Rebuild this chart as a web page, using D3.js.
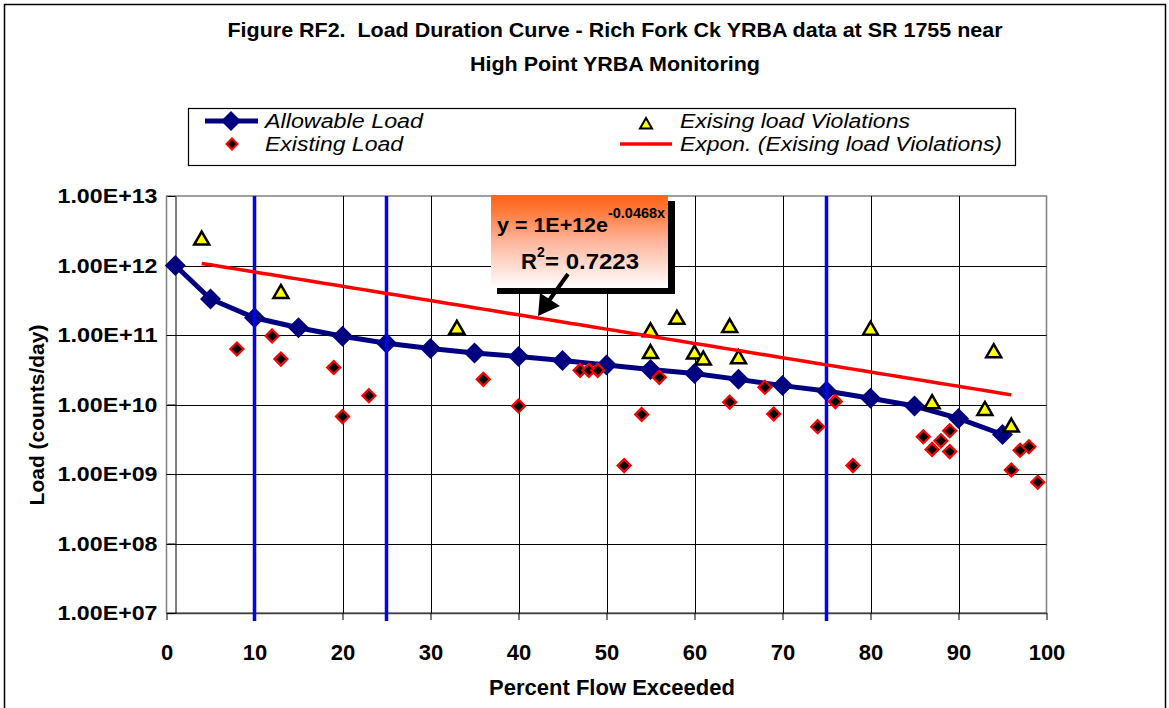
<!DOCTYPE html>
<html>
<head>
<meta charset="utf-8">
<script src="https://cdn.jsdelivr.net/npm/d3@7"></script>
<style>
  body { margin: 0; background: #fff; }
  svg { font-family: "Liberation Sans", Arial, sans-serif; }
</style>
</head>
<body>
<svg id="svg" width="1169" height="708"></svg>
<script>
// ---- data ----
const allowX = [1, 5, 10, 15, 20, 25, 30, 35, 40, 45, 50, 55, 60, 65, 70, 75, 80, 85, 90, 95];
const allowY = [1.0e12, 3.3e11, 1.77e11, 1.27e11, 9.6e10, 7.6e10, 6.4e10, 5.5e10, 4.9e10, 4.3e10,
                3.7e10, 3.2e10, 2.8e10, 2.3e10, 1.87e10, 1.56e10, 1.23e10, 9.5e9, 6.3e9, 3.7e9];

const existX = [8, 12, 13, 19, 20, 23, 36, 40, 47, 48, 49, 52, 54, 56, 64, 68, 69, 74, 76, 78,
                86, 87, 88, 89, 89, 96, 97, 98, 99];
const existY = [6.3e10, 9.7e10, 4.5e10, 3.4e10, 6.7e9, 1.34e10, 2.3e10, 9.5e9, 3.1e10, 3.1e10,
                3.1e10, 1.32e9, 7.2e9, 2.46e10, 1.08e10, 1.77e10, 7.3e9, 4.8e9, 1.1e10, 1.32e9,
                3.44e9, 2.26e9, 3.0e9, 4.2e9, 2.1e9, 1.14e9, 2.2e9, 2.47e9, 7.6e8];

const violX = [4, 13, 33, 55, 55, 58, 60, 61, 64, 65, 80, 87, 93, 94, 96];
const violY = [2.4e12, 4.1e11, 1.25e11, 1.15e11, 5.6e10, 1.74e11, 5.5e10, 4.5e10, 1.32e11, 4.7e10,
               1.21e11, 1.06e10, 8.5e9, 5.75e10, 4.9e9];

const zoneX = [10, 25, 75];
const xTicks = [0, 10, 20, 30, 40, 50, 60, 70, 80, 90, 100];
const yTicks = [1e7, 1e8, 1e9, 1e10, 1e11, 1e12, 1e13];

const titleLines = ["Figure RF2.  Load Duration Curve - Rich Fork Ck YRBA data at SR 1755 near",
                    "High Point YRBA Monitoring"];
const eqText = "y = 1E+12e";
const eqExp = "-0.0468x";
const r2Text = " = 0.7223";

// ---- layout ----
const svg = d3.select("#svg");
const xScale = d3.scaleLinear().domain([0, 100]).range([166.5, 1046.5]);
const yScale = d3.scaleLog().domain([1e7, 1e13]).range([613, 196]);
const plotL = xScale(0), plotR = xScale(100), plotT = yScale(1e13), plotB = yScale(1e7);

const diamond = r => `M0,${-r}L${r},0L0,${r}L${-r},0Z`;
const triangle = "M0,-7.5L7.5,5.5L-7.5,5.5Z";

// outer frame
svg.append("rect").attr("x", 4.5).attr("y", 4.5).attr("width", 1161).attr("height", 720)
    .attr("fill", "#fff").attr("stroke", "#000").attr("stroke-width", 1.5);

// title
svg.selectAll(".title").data(titleLines).join("text")
    .attr("class", "title")
    .attr("x", 615).attr("y", (d, i) => 37 + i * 34)
    .attr("text-anchor", "middle")
    .attr("font-size", 20).attr("font-weight", "bold")
    .attr("textLength", (d, i) => i === 0 ? 775 : 290)
    .attr("lengthAdjust", "spacingAndGlyphs")
    .style("white-space", "pre")
    .text(d => d);

// plot area
svg.append("rect").attr("x", plotL).attr("y", plotT)
    .attr("width", plotR - plotL).attr("height", plotB - plotT)
    .attr("fill", "#fff").attr("stroke", "#808080").attr("stroke-width", 1.5);

// gridlines
svg.append("g").selectAll("line").data(yTicks.slice(1, -1)).join("line")
    .attr("x1", plotL).attr("x2", plotR)
    .attr("y1", d => Math.round(yScale(d)) + 0.5).attr("y2", d => Math.round(yScale(d)) + 0.5)
    .attr("stroke", "#000");
svg.append("g").selectAll("line").data(xTicks.slice(1, -1)).join("line")
    .attr("x1", d => Math.round(xScale(d)) + 0.5).attr("x2", d => Math.round(xScale(d)) + 0.5)
    .attr("y1", plotT).attr("y2", plotB)
    .attr("stroke", "#000");

// axes
const xAxisCall = d3.axisBottom(xScale).tickValues(xTicks).tickSize(7).tickSizeOuter(0).tickPadding(24);
const xAxis = svg.append("g").attr("transform", `translate(0,${plotB})`).call(xAxisCall);
xAxis.select(".domain").attr("stroke", "#404040").attr("stroke-width", 1.5);
xAxis.selectAll("text").attr("font-size", 22).attr("font-weight", "bold")
    .attr("font-family", "Liberation Sans, Arial, sans-serif").attr("fill", "#000");

const yFmt = v => "1.00E+" + String(Math.round(Math.log10(v))).padStart(2, "0");
const yAxisCall = d3.axisLeft(yScale).tickValues(yTicks).tickFormat(yFmt)
    .tickSize(8).tickSizeOuter(0).tickPadding(10);
const yAxis = svg.append("g").attr("transform", `translate(${Math.round(xScale(1)) + 0.5},0)`).call(yAxisCall);
yAxis.select(".domain").attr("stroke", "#000");
yAxis.selectAll("text").attr("font-size", 21).attr("font-weight", "bold")
    .attr("textLength", 100).attr("lengthAdjust", "spacingAndGlyphs")
    .attr("font-family", "Liberation Sans, Arial, sans-serif").attr("fill", "#000");

// axis titles
svg.append("text").attr("transform", "translate(44,415) rotate(-90)")
    .attr("text-anchor", "middle").attr("font-size", 21).attr("font-weight", "bold")
    .text("Load (counts/day)");
svg.append("text").attr("x", 612).attr("y", 695)
    .attr("text-anchor", "middle").attr("font-size", 22).attr("font-weight", "bold")
    .text("Percent Flow Exceeded");

// allowable load
const allowData = allowX.map((x, i) => [x, allowY[i]]);
svg.append("path").datum(allowData)
    .attr("d", d3.line().x(d => xScale(d[0])).y(d => yScale(d[1])))
    .attr("fill", "none").attr("stroke", "#000080").attr("stroke-width", 5);
svg.append("g").selectAll("path").data(allowData).join("path")
    .attr("transform", d => `translate(${xScale(d[0])},${yScale(d[1])})`)
    .attr("d", diamond(10.5)).attr("fill", "#000080");

// flow zone lines
svg.append("g").selectAll("line").data(zoneX).join("line")
    .attr("x1", d => xScale(d)).attr("x2", d => xScale(d))
    .attr("y1", plotT).attr("y2", plotB + 8)
    .attr("stroke", "#0000ff").attr("stroke-width", 3.5);

// existing load
svg.append("g").selectAll("path").data(existX.map((x, i) => [x, existY[i]])).join("path")
    .attr("transform", d => `translate(${xScale(d[0])},${yScale(d[1])})`)
    .attr("d", diamond(6.5)).attr("fill", "#000").attr("stroke", "#ff0000").attr("stroke-width", 2.2);

// violations
const violData = violX.map((x, i) => [x, violY[i]]);
svg.append("g").selectAll("path").data(violData).join("path")
    .attr("transform", d => `translate(${xScale(d[0])},${yScale(d[1])})`)
    .attr("d", triangle).attr("fill", "#ffff00").attr("stroke", "#000").attr("stroke-width", 2.5);

// exponential trend fitted to violations (least squares on ln y)
const mx = d3.mean(violX), my = d3.mean(violY, v => Math.log(v));
const b = d3.sum(violX, (x, i) => (x - mx) * (Math.log(violY[i]) - my)) / d3.sum(violX, x => (x - mx) ** 2);
const a = Math.exp(my - b * mx);
const trendData = d3.range(d3.min(violX), d3.max(violX) + 0.01, 1).map(x => [x, a * Math.exp(b * x)]);
svg.append("path").datum(trendData)
    .attr("d", d3.line().x(d => xScale(d[0])).y(d => yScale(d[1])))
    .attr("fill", "none").attr("stroke", "#ff0000").attr("stroke-width", 3.5);

// equation label
const defs = svg.append("defs");
const grad = defs.append("linearGradient").attr("id", "eqGrad").attr("x1", 0).attr("y1", 0).attr("x2", 0).attr("y2", 1);
grad.append("stop").attr("offset", "0%").attr("stop-color", "#ff6414");
grad.append("stop").attr("offset", "18%").attr("stop-color", "#ff7a3c");
grad.append("stop").attr("offset", "50%").attr("stop-color", "#ffb59c");
grad.append("stop").attr("offset", "100%").attr("stop-color", "#ffffff");

const eq = svg.append("g");
eq.append("rect").attr("x", 497).attr("y", 201).attr("width", 178).attr("height", 93).attr("fill", "#000");
eq.append("rect").attr("x", 491).attr("y", 195).attr("width", 177).attr("height", 93).attr("fill", "url(#eqGrad)");
eq.append("text").attr("x", 497).attr("y", 232).attr("font-size", 21).attr("font-weight", "bold")
    .attr("textLength", 111).attr("lengthAdjust", "spacingAndGlyphs").text(eqText);
eq.append("text").attr("x", 608).attr("y", 218).attr("font-size", 15).attr("font-weight", "bold")
    .attr("textLength", 57).attr("lengthAdjust", "spacingAndGlyphs").text(eqExp);
eq.append("text").attr("x", 521).attr("y", 269).attr("font-size", 22).attr("font-weight", "bold").text("R");
eq.append("text").attr("x", 537).attr("y", 257).attr("font-size", 14).attr("font-weight", "bold").text("2");
eq.append("text").attr("x", 545).attr("y", 269).attr("font-size", 22).attr("font-weight", "bold")
    .attr("textLength", 94).attr("lengthAdjust", "spacingAndGlyphs").text(r2Text);
// arrow
eq.append("line").attr("x1", 568).attr("y1", 274).attr("x2", 548).attr("y2", 302)
    .attr("stroke", "#000").attr("stroke-width", 4);
eq.append("path").attr("d", "M538,316L540,293L560,306Z").attr("fill", "#000");

// legend
const lg = svg.append("g");
lg.append("rect").attr("x", 188.5).attr("y", 108.5).attr("width", 827).attr("height", 57)
    .attr("fill", "#fff").attr("stroke", "#000").attr("stroke-width", 1.2);
lg.append("line").attr("x1", 205).attr("x2", 258).attr("y1", 121).attr("y2", 121)
    .attr("stroke", "#000080").attr("stroke-width", 5);
lg.append("path").attr("transform", "translate(231,121)").attr("d", diamond(10)).attr("fill", "#000080");
lg.append("path").attr("transform", "translate(232,144)").attr("d", diamond(5.5))
    .attr("fill", "#000").attr("stroke", "#ff0000").attr("stroke-width", 2);
lg.append("path").attr("transform", "translate(646,124) scale(0.8)").attr("d", triangle)
    .attr("fill", "#ffff00").attr("stroke", "#000").attr("stroke-width", 2.5);
lg.append("line").attr("x1", 620).attr("x2", 672).attr("y1", 144).attr("y2", 144)
    .attr("stroke", "#ff0000").attr("stroke-width", 3.5);

const legendTexts = [
    {t: "Allowable Load", x: 265, y: 128, w: 158},
    {t: "Existing Load", x: 265, y: 151, w: 138},
    {t: "Exising load Violations", x: 680, y: 128, w: 230},
    {t: "Expon. (Exising load Violations)", x: 680, y: 151, w: 322}
];
lg.selectAll("text").data(legendTexts).join("text")
    .attr("x", d => d.x).attr("y", d => d.y)
    .attr("font-size", 19.5).attr("font-style", "italic")
    .attr("textLength", d => d.w).attr("lengthAdjust", "spacingAndGlyphs")
    .text(d => d.t);
</script>
</body>
</html>
